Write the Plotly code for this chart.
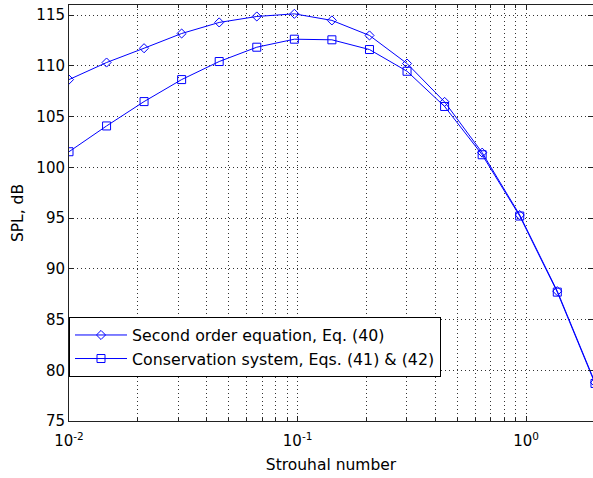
import plotly.graph_objects as go

strouhal = [0.01, 0.0146, 0.0213, 0.0311, 0.0454, 0.0663, 0.0968, 0.1413,
            0.2063, 0.3012, 0.4397, 0.6419, 0.9372, 1.3683, 2.0]
spl_second_order = [108.65, 110.33, 111.74, 113.19, 114.28, 114.87, 115.13, 114.48,
                    113.0, 110.23, 106.45, 101.45, 95.3, 87.8, 78.8]
spl_conservation = [101.54, 104.08, 106.48, 108.65, 110.43, 111.84, 112.63, 112.57,
                    111.61, 109.47, 106.0, 101.24, 95.2, 87.7, 78.7]

series_names = ["Second order equation, Eq. (40)",
                "Conservation system, Eqs. (41) & (42)"]

x_major = [0.01, 0.1, 1]
x_major_text = ["10<sup>-2</sup>", "10<sup>-1</sup>", "10<sup>0</sup>"]
x_minor = [m * d for d in (0.01, 0.1, 1) for m in range(2, 10) if m * d <= 2]
y_ticks = [75, 80, 85, 90, 95, 100, 105, 110, 115]

FONT = "DejaVu Sans"
BLUE = "#0000ff"

fig = go.Figure()
fig.add_trace(go.Scatter(
    x=strouhal, y=spl_second_order, mode="lines+markers", name=series_names[0],
    line=dict(color=BLUE, width=1),
    marker=dict(symbol="diamond-open", size=7, color=BLUE, line=dict(width=1, color=BLUE)),
))
fig.add_trace(go.Scatter(
    x=strouhal, y=spl_conservation, mode="lines+markers", name=series_names[1],
    line=dict(color=BLUE, width=1),
    marker=dict(symbol="square-open", size=8, color=BLUE, line=dict(width=1, color=BLUE)),
))

grid = dict(showgrid=True, gridcolor="#333333", griddash="1px,3px", gridwidth=1)

fig.update_layout(
    width=593, height=478,
    margin=dict(l=69, r=0, t=5, b=57),
    paper_bgcolor="white", plot_bgcolor="white",
    font=dict(family=FONT, size=15, color="black"),
    showlegend=True,
    legend=dict(
        x=0, y=0.2495, xanchor="left", yanchor="top",
        bgcolor="white", bordercolor="black", borderwidth=1,
        font=dict(family=FONT, size=15.8, color="black"),
        itemwidth=52, tracegroupgap=0,
    ),
    xaxis=dict(
        type="log", range=[-2, 0.2924],
        tickvals=x_major, ticktext=x_major_text,
        ticks="inside", ticklen=5, tickcolor="#222", mirror="ticks",
        ticklabelstandoff=6,
        showline=True, linecolor="#222", linewidth=1,
        zeroline=False,
        minor=dict(tickvals=x_minor, ticks="inside", ticklen=3, tickcolor="#222",
                   showgrid=True, gridcolor="#333333", griddash="1px,3px", gridwidth=1),
        title=dict(text="Strouhal number", font=dict(family=FONT, size=15.5), standoff=10),
        **grid,
    ),
    yaxis=dict(
        range=[75, 116], tickvals=y_ticks,
        ticks="inside", ticklen=5, tickcolor="#222", mirror="ticks",
        showline=True, linecolor="#222", linewidth=1,
        zeroline=False,
        title=dict(text="SPL, dB", font=dict(family=FONT, size=15.5), standoff=8),
        **grid,
    ),
)

fig.write_html("out.html")
